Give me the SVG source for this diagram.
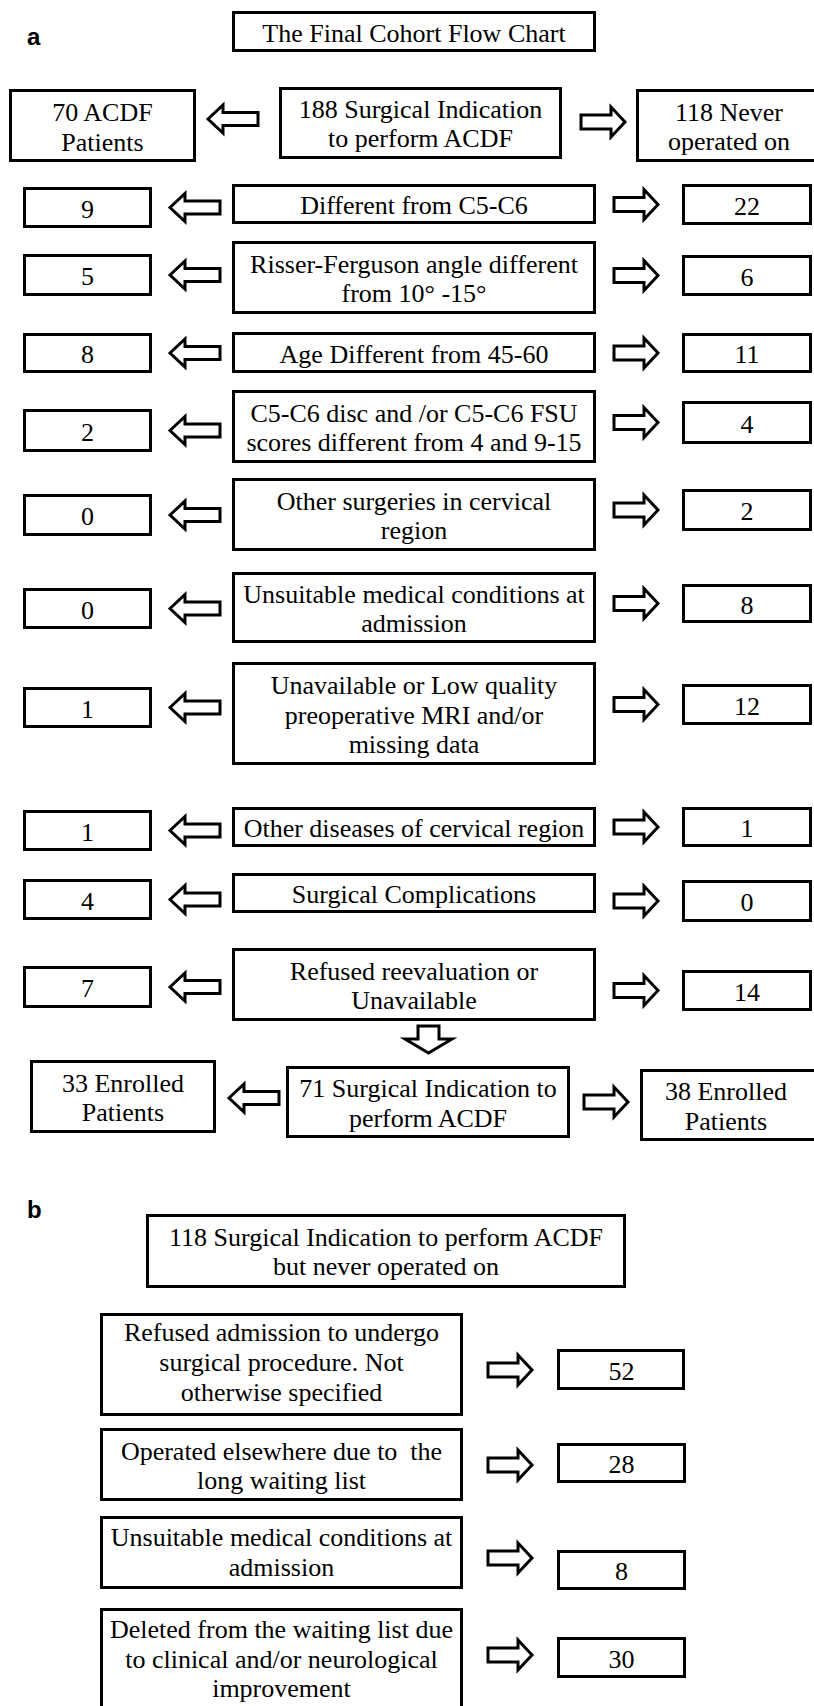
<svg xmlns="http://www.w3.org/2000/svg" xmlns:xlink="http://www.w3.org/1999/xlink" width="814" height="1706" viewBox="0 0 814 1706">
<style>
.box{fill:#fff;stroke:#000;stroke-width:3}
.t{font-family:"Liberation Serif","Times New Roman",serif;font-size:26px;text-anchor:middle;fill:#000;white-space:pre}
.lbl{font-family:"Liberation Sans",Arial,sans-serif;font-size:24px;font-weight:bold;fill:#000}
.arr{fill:#fff;stroke:#000;stroke-width:3;stroke-linejoin:miter}
</style>
<defs>
<path id="la" d="M0,0 L15,-14 L15,-6.5 L50,-6.5 L50,6.5 L15,6.5 L15,14 Z"/>
<path id="ra" d="M0,0 L-14,-15 L-14,-7 L-44,-7 L-44,7 L-14,7 L-14,15 Z"/>
</defs>
<rect width="814" height="1706" fill="#fff"/>
<text class="lbl" x="27" y="45">a</text>
<text class="lbl" x="27" y="1218">b</text>

<g id="connectors">
<use href="#la" class="arr" x="208" y="119"/>
<use href="#ra" class="arr" x="625" y="122"/>
<use href="#la" class="arr" x="170" y="207.5"/>
<use href="#ra" class="arr" x="658" y="204.5"/>
<use href="#la" class="arr" x="170" y="275"/>
<use href="#ra" class="arr" x="658" y="275.5"/>
<use href="#la" class="arr" x="170" y="353"/>
<use href="#ra" class="arr" x="658" y="353"/>
<use href="#la" class="arr" x="170" y="430.5"/>
<use href="#ra" class="arr" x="658" y="422.5"/>
<use href="#la" class="arr" x="170" y="515"/>
<use href="#ra" class="arr" x="658" y="510"/>
<use href="#la" class="arr" x="170" y="608.5"/>
<use href="#ra" class="arr" x="658" y="603.5"/>
<use href="#la" class="arr" x="170" y="707.5"/>
<use href="#ra" class="arr" x="658" y="704.5"/>
<use href="#la" class="arr" x="170" y="830.5"/>
<use href="#ra" class="arr" x="658" y="827"/>
<use href="#la" class="arr" x="170" y="899.5"/>
<use href="#ra" class="arr" x="658" y="901"/>
<use href="#la" class="arr" x="170" y="987"/>
<use href="#ra" class="arr" x="658" y="990.5"/>
<path class="arr" d="M418,1026 L439,1026 L439,1039 L452,1039 L428.5,1053 L405,1039 L418,1039 Z"/>
<use href="#la" class="arr" x="229" y="1098"/>
<use href="#ra" class="arr" x="628" y="1102"/>
<use href="#ra" class="arr" x="532" y="1370"/>
<use href="#ra" class="arr" x="532" y="1465"/>
<use href="#ra" class="arr" x="532" y="1558"/>
<use href="#ra" class="arr" x="532" y="1655"/>
</g>

<g id="title-a"><rect class="box" x="233.5" y="12.5" width="361" height="38"/><text class="t" x="414" y="41.5">The Final Cohort Flow Chart</text></g>

<g id="r0-left"><rect class="box" x="10.5" y="90.5" width="184" height="70"/><text class="t" x="102.5" y="121">70 ACDF</text><text class="t" x="102.5" y="150.5">Patients</text></g>
<g id="r0-center"><rect class="box" x="280.5" y="88.5" width="280" height="69"/><text class="t" x="420.5" y="117.5">188 Surgical Indication</text><text class="t" x="420.5" y="147">to perform ACDF</text></g>
<g id="r0-right"><rect class="box" x="637.5" y="90.5" width="183" height="70"/><text class="t" x="729" y="121">118 Never</text><text class="t" x="729" y="150">operated on</text></g>

<g id="r1-left"><rect class="box" x="24.5" y="188.5" width="126" height="38"/><text class="t" x="87.5" y="217.5">9</text></g>
<g id="r1-center"><rect class="box" x="233.5" y="185.5" width="361" height="37"/><text class="t" x="414" y="214">Different from C5-C6</text></g>
<g id="r1-right"><rect class="box" x="683.5" y="185.5" width="127" height="38"/><text class="t" x="747" y="214.5">22</text></g>

<g id="r2-left"><rect class="box" x="24.5" y="255.5" width="126" height="39"/><text class="t" x="87.5" y="285">5</text></g>
<g id="r2-center"><rect class="box" x="233.5" y="242.5" width="361" height="70"/><text class="t" x="414" y="272.75">Risser-Ferguson angle different</text><text class="t" x="414" y="302.25">from 10° -15°</text></g>
<g id="r2-right"><rect class="box" x="683.5" y="256.5" width="127" height="38"/><text class="t" x="747" y="285.5">6</text></g>

<g id="r3-left"><rect class="box" x="24.5" y="334.5" width="126" height="37"/><text class="t" x="87.5" y="363">8</text></g>
<g id="r3-center"><rect class="box" x="233.5" y="333.5" width="361" height="38"/><text class="t" x="414" y="362.5">Age Different from 45-60</text></g>
<g id="r3-right"><rect class="box" x="683.5" y="334.5" width="127" height="37"/><text class="t" x="747" y="363">11</text></g>

<g id="r4-left"><rect class="box" x="24.5" y="410.5" width="126" height="40"/><text class="t" x="87.5" y="440.5">2</text></g>
<g id="r4-center"><rect class="box" x="233.5" y="391.5" width="361" height="70"/><text class="t" x="414" y="421.75">C5-C6 disc and /or C5-C6 FSU</text><text class="t" x="414" y="451.25">scores different from 4 and 9-15</text></g>
<g id="r4-right"><rect class="box" x="683.5" y="402.5" width="127" height="40"/><text class="t" x="747" y="432.5">4</text></g>

<g id="r5-left"><rect class="box" x="24.5" y="495.5" width="126" height="39"/><text class="t" x="87.5" y="525">0</text></g>
<g id="r5-center"><rect class="box" x="233.5" y="479.5" width="361" height="70"/><text class="t" x="414" y="509.75">Other surgeries in cervical</text><text class="t" x="414" y="539.25">region</text></g>
<g id="r5-right"><rect class="box" x="683.5" y="490.5" width="127" height="39"/><text class="t" x="747" y="520">2</text></g>

<g id="r6-left"><rect class="box" x="24.5" y="589.5" width="126" height="38"/><text class="t" x="87.5" y="618.5">0</text></g>
<g id="r6-center"><rect class="box" x="233.5" y="573.5" width="361" height="68"/><text class="t" x="414" y="602.75">Unsuitable medical conditions at</text><text class="t" x="414" y="632.25">admission</text></g>
<g id="r6-right"><rect class="box" x="683.5" y="585.5" width="127" height="36"/><text class="t" x="747" y="613.5">8</text></g>

<g id="r7-left"><rect class="box" x="24.5" y="688.5" width="126" height="38"/><text class="t" x="87.5" y="717.5">1</text></g>
<g id="r7-center"><rect class="box" x="233.5" y="663.5" width="361" height="100"/><text class="t" x="414" y="694">Unavailable or Low quality</text><text class="t" x="414" y="723.5">preoperative MRI and/or</text><text class="t" x="414" y="753">missing data</text></g>
<g id="r7-right"><rect class="box" x="683.5" y="685.5" width="127" height="38"/><text class="t" x="747" y="714.5">12</text></g>

<g id="r8-left"><rect class="box" x="24.5" y="811.5" width="126" height="38"/><text class="t" x="87.5" y="840.5">1</text></g>
<g id="r8-center"><rect class="box" x="233.5" y="808.5" width="361" height="37"/><text class="t" x="414" y="837">Other diseases of cervical region</text></g>
<g id="r8-right"><rect class="box" x="683.5" y="808.5" width="127" height="37"/><text class="t" x="747" y="837">1</text></g>

<g id="r9-left"><rect class="box" x="24.5" y="880.5" width="126" height="38"/><text class="t" x="87.5" y="909.5">4</text></g>
<g id="r9-center"><rect class="box" x="233.5" y="874.5" width="361" height="37"/><text class="t" x="414" y="903">Surgical Complications</text></g>
<g id="r9-right"><rect class="box" x="683.5" y="881.5" width="127" height="39"/><text class="t" x="747" y="911">0</text></g>

<g id="r10-left"><rect class="box" x="24.5" y="967.5" width="126" height="39"/><text class="t" x="87.5" y="997">7</text></g>
<g id="r10-center"><rect class="box" x="233.5" y="949.5" width="361" height="70"/><text class="t" x="414" y="979.75">Refused reevaluation or</text><text class="t" x="414" y="1009.25">Unavailable</text></g>
<g id="r10-right"><rect class="box" x="683.5" y="971.5" width="127" height="38"/><text class="t" x="747" y="1000.5">14</text></g>

<g id="r11-left"><rect class="box" x="31.5" y="1061.5" width="183" height="70"/><text class="t" x="123" y="1092">33 Enrolled</text><text class="t" x="123" y="1121">Patients</text></g>
<g id="r11-center"><rect class="box" x="287.5" y="1067.5" width="281" height="69"/><text class="t" x="428" y="1097">71 Surgical Indication to</text><text class="t" x="428" y="1127">perform ACDF</text></g>
<g id="r11-right"><rect class="box" x="641.5" y="1070.5" width="174" height="69"/><text class="t" x="726" y="1100">38 Enrolled</text><text class="t" x="726" y="1130">Patients</text></g>

<g id="title-b"><rect class="box" x="147.5" y="1215.5" width="477" height="71"/><text class="t" x="386" y="1246">118 Surgical Indication to perform ACDF</text><text class="t" x="386" y="1275">but never operated on</text></g>

<g id="b1"><rect class="box" x="101.5" y="1314.5" width="360" height="100"/><text class="t" x="281.5" y="1341">Refused admission to undergo</text><text class="t" x="281.5" y="1371">surgical procedure. Not</text><text class="t" x="281.5" y="1401">otherwise specified</text></g>
<g id="b1-n"><rect class="box" x="558.5" y="1350.5" width="125" height="38"/><text class="t" x="621.5" y="1379.5">52</text></g>

<g id="b2"><rect class="box" x="101.5" y="1429.5" width="360" height="70"/><text class="t" x="281.5" y="1459.5" xml:space="preserve">Operated elsewhere due to  the</text><text class="t" x="281.5" y="1489">long waiting list</text></g>
<g id="b2-n"><rect class="box" x="558.5" y="1444.5" width="126" height="37"/><text class="t" x="621.5" y="1473">28</text></g>

<g id="b3"><rect class="box" x="101.5" y="1517.5" width="360" height="70"/><text class="t" x="281.5" y="1546">Unsuitable medical conditions at</text><text class="t" x="281.5" y="1576">admission</text></g>
<g id="b3-n"><rect class="box" x="558.5" y="1551.5" width="126" height="37"/><text class="t" x="621.5" y="1580">8</text></g>

<g id="b4"><rect class="box" x="101.5" y="1609.5" width="360" height="110"/><text class="t" x="281.5" y="1638">Deleted from the waiting list due</text><text class="t" x="281.5" y="1667.5">to clinical and/or neurological</text><text class="t" x="281.5" y="1697">improvement</text></g>
<g id="b4-n"><rect class="box" x="558.5" y="1638.5" width="126" height="38"/><text class="t" x="621.5" y="1667.5">30</text></g>
</svg>
